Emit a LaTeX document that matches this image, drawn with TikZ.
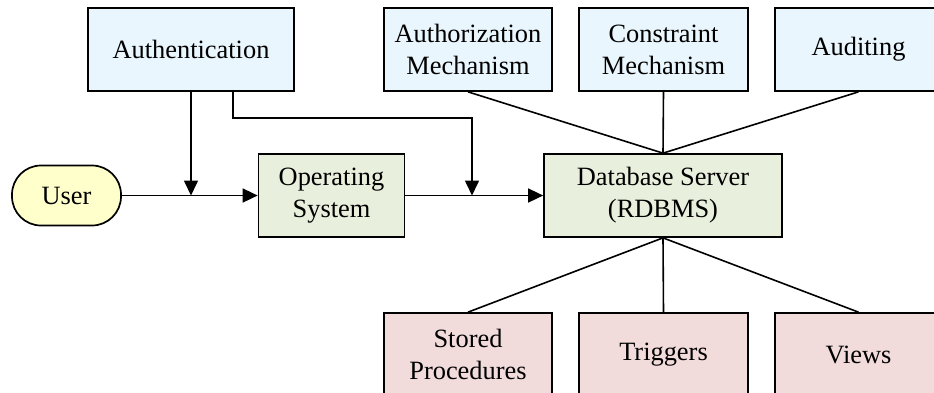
\documentclass[tikz,border=0pt]{standalone}
\usepackage{fontspec}
\setmainfont{Liberation Serif}
\usetikzlibrary{arrows.meta}
\definecolor{blueFill}{HTML}{EAF6FD}
\definecolor{greenFill}{HTML}{E9EFDD}
\definecolor{pinkFill}{HTML}{F2DCDB}
\definecolor{yellowFill}{HTML}{FFFFCC}
\tikzset{
  box/.style={draw=black, line width=1.7bp, inner sep=0pt, align=center,
    font=\fontsize{26.5}{32}\selectfont},
  topbox/.style={box, fill=blueFill, minimum height=83bp},
  midbox/.style={box, fill=greenFill, minimum height=83bp},
  lowbox/.style={box, fill=pinkFill, minimum height=83bp},
  startbox/.style={box, fill=yellowFill, rounded corners=29bp,
    minimum width=109bp, minimum height=60bp},
  link/.style={line width=1.6bp},
  arr/.style={link, -{Triangle[length=15bp,width=14bp]}}
}
\begin{document}
\begin{tikzpicture}[x=1bp, y=-1bp]
  \useasboundingbox (0,0) rectangle (934,392);
  \clip (0,0) rectangle (934,392);

  % security layers above the server
  \node[topbox, minimum width=206bp] (auth)  at (191,49.5)   {Authentication};
  \node[topbox, minimum width=168bp] (authz) at (468,49.5)   {Authorization\\Mechanism};
  \node[topbox, minimum width=169bp] (cons)  at (663.5,49.5) {Constraint\\Mechanism};
  \node[topbox, minimum width=167bp] (audit) at (858.5,49.5) {Auditing};

  % request path
  \node[startbox] (user) at (66.5,195.5) {User};
  \node[midbox, minimum width=146bp] (os) at (331.5,195.5) {Operating\\System};
  \node[midbox, minimum width=238bp] (db) at (663,195.5) {Database Server\\(RDBMS)};

  % server-side objects
  \node[lowbox, minimum width=168bp] (sp)    at (468,354.5)   {Stored\\Procedures};
  \node[lowbox, minimum width=169bp] (trig)  at (663.5,354.5) {Triggers};
  \node[lowbox, minimum width=167bp] (views) at (858.5,354.5) {Views};

  % junctions where authentication meets the request path
  \coordinate (j1) at (191,195.5);
  \coordinate (j2) at (472,195.5);
  \coordinate (k1) at (233,118);
  \coordinate (k2) at (472,118);

  \draw[arr] (user.east) -- (os.west);
  \draw[arr] (os.east) -- (db.west);
  \draw[arr] (auth.south) -- (j1);
  \draw[arr] (auth.south -| k1) -- (k1) -- (k2) -- (j2);

  \draw[link] (authz.south) -- (db.north);
  \draw[link] (cons.south)  -- (db.north);
  \draw[link] (audit.south) -- (db.north);

  \draw[link] (db.south) -- (sp.north);
  \draw[link] (db.south) -- (trig.north);
  \draw[link] (db.south) -- (views.north);
\end{tikzpicture}
\end{document}
